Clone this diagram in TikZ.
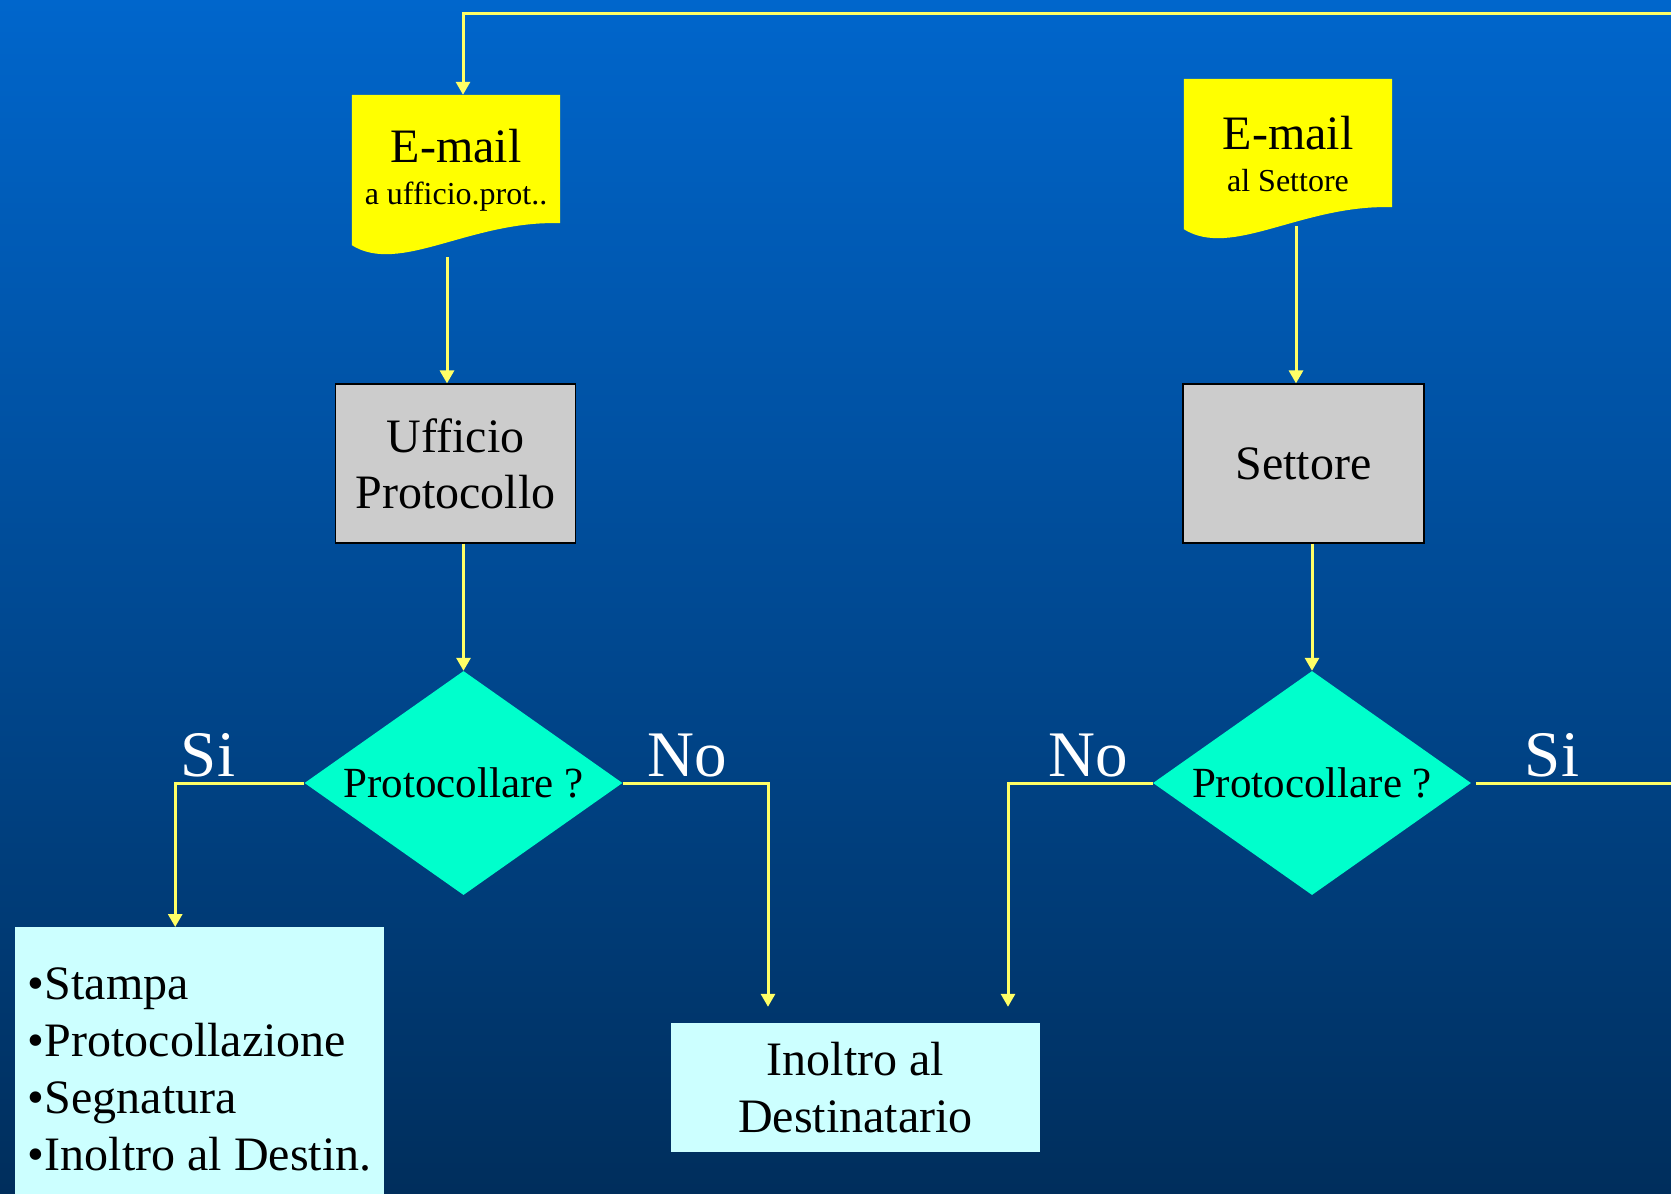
\documentclass[tikz,border=0pt]{standalone}
\usepackage{fontspec}
\setmainfont{Liberation Serif}
\usetikzlibrary{shapes.geometric,arrows.meta,backgrounds}

\definecolor{bgtop}{RGB}{0,102,204}
\definecolor{bgbot}{RGB}{0,46,92}
\definecolor{flowyel}{RGB}{255,255,102}
\definecolor{docyel}{RGB}{255,255,0}
\definecolor{boxgray}{RGB}{204,204,204}
\definecolor{diaaqua}{RGB}{0,255,204}
\definecolor{notecyan}{RGB}{204,255,255}

\begin{document}
\begin{tikzpicture}
  [x=1pt,y=-1pt,
   every node/.style={inner sep=0pt, text=black},
   doc/.style={minimum width=208pt, minimum height=150pt, align=center, font=\fontsize{32}{42}\selectfont},
   office/.style={draw=black, line width=1.2pt, fill=boxgray, minimum width=240pt, minimum height=159pt, align=center, font=\fontsize{48}{56}\selectfont},
   query/.style={diamond, aspect=1.42, fill=diaaqua, minimum width=318pt, minimum height=224pt, font=\fontsize{43}{48}\selectfont},
   note/.style={fill=notecyan, minimum width=369pt, font=\fontsize{48}{57}\selectfont},
   answer/.style={text=white, anchor=base, font=\fontsize{65}{65}\selectfont},
   flow/.style={draw=flowyel, line width=3pt, -{Triangle[width=14pt,length=13pt]}},
   flowline/.style={draw=flowyel, line width=3pt}]
  \useasboundingbox (0,0) rectangle (1671,1194);

  % left branch
  \node[doc] (mail1) at (456,170) {{\fontsize{48}{48}\selectfont E-mail}\\a ufficio.prot..};
  \node[office] (uff) at (455.5,463.5) {Ufficio\\Protocollo};
  \node[query] (dia1) at (463.5,783) {Protocollare ?};
  \node[answer] (si1) at (208,776) {Si};
  \node[answer] (no1) at (687,776) {No};
  \node[note, anchor=north west, minimum height=284pt, align=left] (steps) at (15,927)
    {\textbullet Stampa\\\textbullet Protocollazione\\\textbullet Segnatura\\\textbullet Inoltro al Destin.};

  % right branch
  \node[doc] (mail2) at (1288,154) {{\fontsize{48}{48}\selectfont E-mail}\\al Settore};
  \node[office, minimum width=241pt] (sett) at (1303.5,463.5) {Settore};
  \node[query] (dia2) at (1312,783) {Protocollare ?};
  \node[answer] (no2) at (1088,776) {No};
  \node[answer] (si2) at (1552,776) {Si};

  \node[note, minimum height=129pt, align=center] (dest) at (855.5,1087.5) {Inoltro al\\Destinatario};

  \coordinate (outT) at (1671,13);
  \coordinate (outR) at (1671,783);
  \coordinate (m1out) at ([shift={(-9,12)}]mail1.south);
  \coordinate (m2out) at ([shift={(8,-3)}]mail2.south);

  \begin{scope}[on background layer]
    \shade[top color=bgtop, bottom color=bgbot] (0,0) rectangle (1671,1194);
    \foreach \d in {mail1,mail2}
      \fill[docyel] (\d.north west) -- (\d.north east) -- ([yshift=22pt]\d.south east)
        .. controls ([shift={(-90,-25)}]\d.south east) and ([shift={(48,30)}]\d.south west) .. (\d.south west) -- cycle;
  \end{scope}

  \draw[flow] (outT) -| ([xshift=7pt]mail1.north);
  \draw[flow] (m1out) -- (m1out |- uff.north);
  \draw[flow] (uff.south -| dia1.north) -- (dia1.north);
  \draw[flow] (dia1.west) -| ([xshift=-24.5pt]steps.north);
  \draw[flow] (dia1.east) -| ([shift={(-87.5,-16)}]dest.north);

  \draw[flow] (m2out) -- (m2out |- sett.north);
  \draw[flow] (sett.south -| dia2.north) -- (dia2.north);
  \draw[flow] (dia2.west) -| ([shift={(152.5,-16)}]dest.north);
  \draw[flowline] ([xshift=5pt]dia2.east) -- (outR);
\end{tikzpicture}
\end{document}
